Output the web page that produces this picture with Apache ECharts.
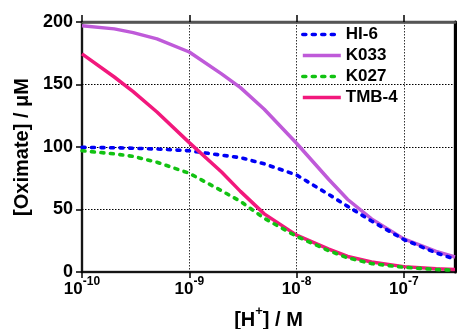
<!DOCTYPE html>
<html>
<head>
<meta charset="utf-8">
<script src="https://cdn.jsdelivr.net/npm/echarts@6/dist/echarts.min.js"></script>
<style>
  html, body { margin: 0; padding: 0; background: #fff; }
  #chart { width: 460px; height: 329px; }
</style>
</head>
<body>
<div id="chart"></div>
<script>
// [H+] / M
const hConc = [1e-10, 2e-10, 3e-10, 5e-10, 1e-9, 2e-9, 3e-9, 5e-9, 1e-8, 2e-8, 3e-8, 5e-8, 1e-7, 2e-7, 3e-7];
// [Oximate] / µM
const hi6  = [99.7, 99.4, 99.0, 98.4, 97.0, 93.5, 91.5, 86.5, 77.6, 62.0, 52.5, 40.8, 26.0, 15.3, 10.3];
const k033 = [197, 194.5, 191.5, 186.5, 176, 158.5, 147.5, 130.2, 103, 74, 58, 42.5, 26.5, 16.5, 12];
const k027 = [97, 94.5, 92.5, 87.8, 79, 65, 56.5, 43, 28.5, 17, 11.3, 6.7, 3.8, 2.0, 1.5];
const tmb4 = [174.5, 156, 144.3, 128, 103.5, 80, 64.5, 46.5, 29.5, 18.3, 12.4, 8.0, 4.3, 2.6, 2.0];
const xTicks = [1e-10, 1e-9, 1e-8, 1e-7];
const yTicks = [0, 50, 100, 150, 200];
const seriesNames = ['HI-6', 'K033', 'K027', 'TMB-4'];

const FONT = '"Liberation Sans", Arial, Helvetica, sans-serif';
const pairs = arr => hConc.map((h, i) => [h, arr[i]]);

const chart = echarts.init(document.getElementById('chart'), null, { renderer: 'canvas' });

function lineSeries(name, data, color, dashed) {
  return {
    name, type: 'line', data: pairs(data),
    xAxisIndex: 0, yAxisIndex: 0,
    symbol: 'none', smooth: false, animation: false,
    lineStyle: dashed
      ? { color, width: 3.6, type: [3, 6.5], cap: 'round' }
      : { color, width: 3.5 },
    itemStyle: { color }
  };
}

const option = {
  animation: false,
  backgroundColor: '#fff',
  textStyle: { fontFamily: FONT },
  grid: {
    left: 82, right: 5, top: 22, bottom: 57,
    containLabel: false, outerBoundsMode: 'none',
    show: true, borderColor: '#555', borderWidth: 2.5, backgroundColor: 'transparent'
  },
  legend: {
    orient: 'vertical', left: 301, top: 26, padding: 0,
    itemWidth: 38, itemHeight: 12, itemGap: 4,
    data: seriesNames,
    itemStyle: { opacity: 0 },
    lineStyle: { width: 'inherit', type: 'inherit', cap: 'inherit' },
    textStyle: { fontFamily: FONT, fontSize: 17, lineHeight: 17, fontWeight: 'bold', color: '#000' }
  },
  xAxis: [{
    type: 'log', logBase: 10, min: 1e-10, max: 3e-7,
    position: 'bottom',
    name: '{a|[H}{s|+}{a|] / M}',
    nameLocation: 'middle', nameGap: 33,
    nameTextStyle: {
      rich: {
        a: { fontFamily: FONT, fontSize: 20, fontWeight: 'bold', color: '#000', padding: [5, 0, 0, 0], verticalAlign: 'bottom' },
        s: { fontFamily: FONT, fontSize: 13, fontWeight: 'bold', color: '#000', verticalAlign: 'top' }
      }
    },
    axisLine: { show: true, onZero: false, lineStyle: { color: '#000', width: 1.5 } },
    axisTick: { show: true, inside: false, length: 6, customValues: xTicks, lineStyle: { color: '#000', width: 1.5 } },
    axisLabel: {
      margin: 4, customValues: xTicks,
      showMinLabel: true, showMaxLabel: true,
      formatter: v => {
        const l = Math.log10(v);
        const e = Math.round(l);
        if (Math.abs(l - e) > 1e-6) return '';
        return '{b|10}{s|' + e + '}';
      },
      rich: {
        b: { fontFamily: FONT, fontSize: 17, fontWeight: 'bold', color: '#000', padding: [5, 0, 0, 0], verticalAlign: 'bottom' },
        s: { fontFamily: FONT, fontSize: 12, fontWeight: 'bold', color: '#000', verticalAlign: 'top' }
      }
    },
    splitLine: { show: true, showMinLine: false, showMaxLine: true, lineStyle: { color: '#333', width: 1, type: [1.5, 1.5] } }
  }, {
    type: 'log', logBase: 10, min: 1e-10, max: 3e-7,
    position: 'top',
    axisLine: { show: true, onZero: false, lineStyle: { color: '#555', width: 2.5 } },
    axisTick: { show: true, inside: false, length: 7, customValues: xTicks, lineStyle: { color: '#000', width: 1.5 } },
    axisLabel: { show: false },
    splitLine: { show: false }
  }],
  yAxis: [{
    type: 'value', min: 0, max: 200, interval: 50,
    position: 'left',
    name: '[Oximate] / μM',
    nameLocation: 'middle', nameGap: 49,
    nameTextStyle: { fontFamily: FONT, fontSize: 20, fontWeight: 'bold', color: '#000' },
    axisLine: { show: true, onZero: false, lineStyle: { color: '#000', width: 1.5 } },
    axisTick: { show: true, inside: false, length: 6, lineStyle: { color: '#000', width: 1.5 } },
    axisLabel: { margin: 9, fontFamily: FONT, fontSize: 18, fontWeight: 'bold', color: '#000',
      customValues: yTicks },
    splitLine: { show: true, showMinLine: false, showMaxLine: false, lineStyle: { color: '#000', width: 1, type: [1.5, 1.5] } }
  }, {
    type: 'value', min: 0, max: 200, interval: 50,
    position: 'right',
    axisLine: { show: true, onZero: false, lineStyle: { color: '#000', width: 3 } },
    axisTick: { show: false },
    axisLabel: { show: false },
    splitLine: { show: false }
  }],
  series: [
    lineSeries('K033', k033, '#bf5ad9', false),
    lineSeries('HI-6', hi6, '#0000f5', true),
    lineSeries('TMB-4', tmb4, '#f2187c', false),
    lineSeries('K027', k027, '#12c212', true)
  ]
};
chart.setOption(option);
</script>
</body>
</html>
